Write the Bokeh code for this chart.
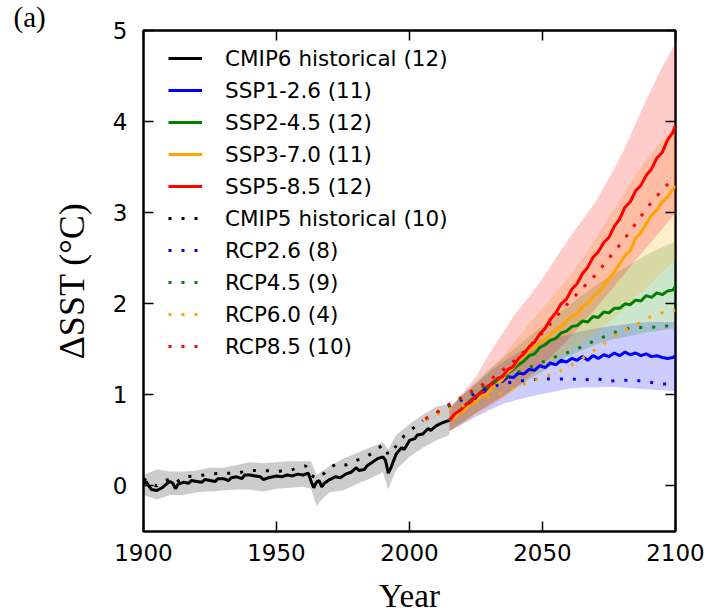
from bokeh.plotting import figure
from bokeh.models import (LinearAxis, FixedTicker, Legend, LegendItem, Title,
                          Range1d, CustomJSTickFormatter)
from bokeh.embed import file_html
from bokeh.resources import INLINE

# ---------------- data ----------------
hist6_years = [1900, 1901, 1902, 1903, 1905, 1907, 1909, 1910, 1911, 1912, 1913, 1915,
               1917, 1918, 1920, 1922, 1923, 1925, 1927, 1928, 1930, 1932, 1933, 1935,
               1937, 1938, 1940, 1942, 1944, 1945, 1947, 1950, 1952, 1954, 1956, 1958,
               1960, 1962, 1963, 1964, 1965, 1966, 1967, 1968, 1970, 1972, 1974, 1976,
               1978, 1980, 1981, 1983, 1984, 1986, 1988, 1990, 1991, 1992, 1993, 1995,
               1997, 1998, 2000, 2002, 2003, 2005, 2007, 2008, 2010, 2012, 2015]
hist6_mean = [0.02, 0.05, 0.00, -0.04, -0.05, -0.02, 0.03, 0.05, 0.03, -0.03, 0.02, 0.04,
              0.03, 0.06, 0.05, 0.04, 0.07, 0.06, 0.05, 0.08, 0.08, 0.06, 0.09, 0.10,
              0.08, 0.12, 0.12, 0.11, 0.10, 0.07, 0.09, 0.11, 0.10, 0.12, 0.11, 0.13,
              0.12, 0.14, 0.05, -0.02, 0.04, 0.06, -0.01, 0.03, 0.07, 0.10, 0.09, 0.13,
              0.15, 0.20, 0.17, 0.18, 0.22, 0.26, 0.30, 0.32, 0.28, 0.14, 0.20, 0.35,
              0.42, 0.40, 0.50, 0.52, 0.56, 0.57, 0.63, 0.61, 0.66, 0.69, 0.72]

band6_years = [1900, 1905, 1910, 1915, 1920, 1925, 1930, 1935, 1940, 1945, 1950, 1955,
               1960, 1963, 1965, 1967, 1970, 1975, 1980, 1985, 1990, 1992, 1995, 2000,
               2005, 2010, 2015]
band6_low = [-0.10, -0.15, -0.10, -0.10, -0.07, -0.06, -0.05, -0.04, -0.04, -0.06, -0.03, -0.02,
             -0.01, -0.03, -0.22, -0.15, -0.07, -0.05, 0.02, 0.08, 0.15, -0.04, 0.18, 0.32,
             0.42, 0.50, 0.56]
band6_high = [0.12, 0.18, 0.16, 0.16, 0.17, 0.20, 0.20, 0.23, 0.26, 0.25, 0.26, 0.27,
              0.27, 0.27, 0.12, 0.16, 0.22, 0.30, 0.36, 0.42, 0.48, 0.40, 0.56, 0.68,
              0.78, 0.87, 0.90]

hist5_years = [1900, 1903, 1905, 1908, 1910, 1912, 1915, 1920, 1925, 1930, 1935, 1940,
               1945, 1950, 1955, 1958, 1961, 1963, 1965, 1968, 1970, 1973, 1976, 1980,
               1983, 1986, 1988, 1990, 1991, 1992, 1994, 1996, 1998, 2000, 2002, 2005]
hist5_mean = [0.08, 0.02, 0.00, 0.06, 0.07, 0.03, 0.10, 0.11, 0.13, 0.14, 0.14, 0.17,
              0.17, 0.16, 0.17, 0.20, 0.22, 0.12, 0.08, 0.14, 0.20, 0.25, 0.23, 0.28,
              0.31, 0.36, 0.41, 0.45, 0.42, 0.34, 0.40, 0.48, 0.55, 0.60, 0.65, 0.72]

ssp_years = [2015, 2017, 2019, 2021, 2023, 2025, 2027, 2029, 2031, 2033, 2035, 2037,
             2039, 2041, 2043, 2045, 2047, 2049, 2051, 2053, 2055, 2057, 2059, 2061,
             2063, 2065, 2067, 2069, 2071, 2073, 2075, 2077, 2079, 2081, 2083, 2085,
             2087, 2089, 2091, 2093, 2095, 2097, 2099, 2100]
ssp126 = [0.72, 0.78, 0.80, 0.88, 0.90, 0.97, 1.00, 1.06, 1.08, 1.14, 1.15, 1.20,
          1.19, 1.24, 1.23, 1.28, 1.27, 1.32, 1.30, 1.35, 1.33, 1.38, 1.36, 1.40,
          1.38, 1.42, 1.38, 1.43, 1.40, 1.44, 1.42, 1.46, 1.43, 1.47, 1.44, 1.46,
          1.43, 1.45, 1.42, 1.43, 1.41, 1.40, 1.41, 1.43]
ssp245 = [0.72, 0.78, 0.82, 0.88, 0.94, 0.98, 1.04, 1.07, 1.13, 1.15, 1.21, 1.24,
          1.28, 1.33, 1.37, 1.43, 1.45, 1.52, 1.55, 1.60, 1.62, 1.68, 1.70, 1.75,
          1.76, 1.81, 1.80, 1.86, 1.85, 1.91, 1.90, 1.95, 1.95, 2.00, 1.99, 2.04,
          2.03, 2.09, 2.07, 2.12, 2.10, 2.14, 2.15, 2.19]
ssp370 = [0.72, 0.76, 0.80, 0.84, 0.90, 0.92, 0.99, 1.01, 1.08, 1.12, 1.17, 1.25,
          1.30, 1.38, 1.42, 1.49, 1.52, 1.58, 1.61, 1.66, 1.71, 1.75, 1.81, 1.86,
          1.89, 1.97, 2.00, 2.08, 2.12, 2.20, 2.28, 2.35, 2.44, 2.53, 2.58, 2.72,
          2.78, 2.88, 2.97, 3.03, 3.12, 3.17, 3.26, 3.29]
ssp585 = [0.72, 0.79, 0.83, 0.89, 0.92, 0.99, 1.02, 1.09, 1.12, 1.18, 1.20, 1.28,
          1.31, 1.40, 1.45, 1.53, 1.58, 1.67, 1.73, 1.83, 1.90, 2.00, 2.05, 2.16,
          2.22, 2.33, 2.40, 2.51, 2.57, 2.67, 2.73, 2.85, 2.93, 3.06, 3.12, 3.24,
          3.30, 3.41, 3.48, 3.60, 3.66, 3.80, 3.88, 3.96]

band_years = [2015, 2020, 2025, 2030, 2035, 2040, 2045, 2050, 2055, 2060, 2065, 2070,
              2075, 2080, 2085, 2090, 2095, 2100]
ssp126_low = [0.60, 0.68, 0.76, 0.83, 0.90, 0.94, 0.98, 1.01, 1.04, 1.07, 1.08, 1.08,
              1.09, 1.08, 1.07, 1.06, 1.05, 1.04]
ssp126_high = [0.85, 1.00, 1.12, 1.25, 1.36, 1.45, 1.52, 1.58, 1.63, 1.66, 1.70, 1.73,
               1.75, 1.77, 1.79, 1.80, 1.80, 1.80]
ssp245_low = [0.60, 0.70, 0.80, 0.90, 0.99, 1.08, 1.17, 1.26, 1.35, 1.43, 1.49, 1.55,
              1.60, 1.63, 1.66, 1.69, 1.71, 1.73]
ssp245_high = [0.85, 1.00, 1.14, 1.28, 1.40, 1.52, 1.64, 1.76, 1.87, 1.98, 2.10, 2.20,
               2.30, 2.38, 2.47, 2.55, 2.62, 2.68]
ssp370_low = [0.60, 0.68, 0.77, 0.86, 0.96, 1.06, 1.17, 1.28, 1.38, 1.48, 1.58, 1.68,
              1.80, 1.93, 2.07, 2.20, 2.35, 2.48]
ssp370_high = [0.85, 1.00, 1.12, 1.27, 1.42, 1.60, 1.78, 1.95, 2.12, 2.30, 2.50, 2.72,
               2.95, 3.18, 3.42, 3.62, 3.80, 3.95]
ssp585_low = [0.60, 0.70, 0.80, 0.88, 0.97, 1.08, 1.20, 1.33, 1.47, 1.62, 1.78, 1.95,
              2.12, 2.30, 2.48, 2.65, 2.82, 3.00]
ssp585_high = [0.85, 1.02, 1.20, 1.45, 1.68, 1.90, 2.08, 2.28, 2.50, 2.72, 2.92, 3.12,
               3.38, 3.65, 3.98, 4.30, 4.60, 4.86]

rcp_years = [2006, 2010, 2015, 2020, 2025, 2030, 2035, 2040, 2045, 2050, 2055, 2060,
             2065, 2070, 2075, 2080, 2085, 2090, 2095, 2100]
rcp26 = [0.73, 0.80, 0.88, 0.95, 1.02, 1.08, 1.12, 1.15, 1.16, 1.18, 1.17, 1.18,
         1.16, 1.18, 1.15, 1.16, 1.16, 1.14, 1.12, 1.12]
rcp45 = [0.73, 0.80, 0.88, 0.97, 1.05, 1.12, 1.18, 1.24, 1.30, 1.36, 1.42, 1.47,
         1.53, 1.60, 1.66, 1.72, 1.74, 1.74, 1.75, 1.77]
rcp60 = [0.72, 0.78, 0.84, 0.88, 0.93, 0.98, 1.02, 1.08, 1.14, 1.19, 1.24, 1.31,
         1.40, 1.50, 1.60, 1.70, 1.77, 1.85, 1.90, 1.93]
rcp85 = [0.74, 0.80, 0.90, 0.98, 1.07, 1.16, 1.27, 1.39, 1.53, 1.68, 1.85, 2.02,
         2.17, 2.32, 2.50, 2.68, 2.88, 3.08, 3.25, 3.40]

labels = ["CMIP6 historical (12)", "SSP1-2.6 (11)", "SSP2-4.5 (12)", "SSP3-7.0 (11)",
          "SSP5-8.5 (12)", "CMIP5 historical (10)", "RCP2.6 (8)", "RCP4.5 (9)",
          "RCP6.0 (4)", "RCP8.5 (10)"]
x_ticks = [1900, 1950, 2000, 2050, 2100]
y_ticks = [0, 1, 2, 3, 4, 5]

# ---------------- figure ----------------
BLUE, GREEN, ORANGE, RED = "#0000ff", "#008000", "#ffa500", "#ff0000"

p = figure(width=715, height=616, x_range=Range1d(1900, 2100), y_range=Range1d(-0.5, 5),
           output_backend="svg", toolbar_location=None,
           min_border_left=143, min_border_right=40, min_border_top=30, min_border_bottom=84)
p.background_fill_color = "white"
p.border_fill_color = "white"
p.grid.visible = False
p.outline_line_color = "black"
p.outline_line_width = 2.5

p.title = Title(text="(a)", align="left", offset=-130, standoff=-5,
                text_font="Liberation Serif", text_font_size="29px",
                text_font_style="normal", text_color="black")

for ax in (p.xaxis[0], p.yaxis[0]):
    ax.axis_line_color = None
    ax.major_tick_in = 10
    ax.major_tick_out = 0
    ax.minor_tick_line_color = None
    ax.major_tick_line_width = 1.5
    ax.major_tick_line_color = "black"
    ax.major_label_text_font = "DejaVu Sans"
    ax.major_label_text_font_size = "23px"
    ax.major_label_text_color = "black"
    ax.axis_label_text_font = "Liberation Serif"
    ax.axis_label_text_font_size = "33px"
    ax.axis_label_text_font_style = "normal"
    ax.axis_label_text_color = "black"

p.xaxis[0].ticker = FixedTicker(ticks=x_ticks)
p.yaxis[0].ticker = FixedTicker(ticks=y_ticks)
p.xaxis[0].axis_label = "Year"
p.yaxis[0].axis_label = "ΔSST (°C)"
p.yaxis[0].axis_label_text_font_size = "36px"
p.xaxis[0].major_label_standoff = 12
p.yaxis[0].major_label_standoff = 16
p.xaxis[0].axis_label_standoff = 14
p.yaxis[0].axis_label_standoff = 18

blank = CustomJSTickFormatter(code="return ''")
for loc, tk in (("right", y_ticks), ("above", x_ticks)):
    ax = LinearAxis(ticker=FixedTicker(ticks=tk), formatter=blank,
                    axis_line_color=None, major_tick_in=10, major_tick_out=0,
                    minor_tick_line_color=None, major_tick_line_width=1.5,
                    major_label_standoff=0, major_label_text_font_size="0px")
    p.add_layout(ax, loc)

# bands
p.varea(x=band6_years, y1=band6_low, y2=band6_high, fill_color="black", fill_alpha=0.2)
for lo, hi, c in ((ssp126_low, ssp126_high, BLUE), (ssp245_low, ssp245_high, GREEN),
                  (ssp370_low, ssp370_high, ORANGE), (ssp585_low, ssp585_high, RED)):
    p.varea(x=band_years, y1=lo, y2=hi, fill_color=c, fill_alpha=0.2)

LW = 3
DOT = "3 10"
r_h6 = p.line(hist6_years, hist6_mean, line_color="black", line_width=LW)
r_s1 = p.line(ssp_years, ssp126, line_color=BLUE, line_width=LW)
r_s2 = p.line(ssp_years, ssp245, line_color=GREEN, line_width=LW)
r_s3 = p.line(ssp_years, ssp370, line_color=ORANGE, line_width=LW)
r_s5 = p.line(ssp_years, ssp585, line_color=RED, line_width=LW)
r_h5 = p.line(hist5_years, hist5_mean, line_color="black", line_width=LW, line_dash=DOT)
r_r26 = p.line(rcp_years, rcp26, line_color=BLUE, line_width=LW, line_dash=DOT)
r_r45 = p.line(rcp_years, rcp45, line_color=GREEN, line_width=LW, line_dash=DOT)
r_r60 = p.line(rcp_years, rcp60, line_color=ORANGE, line_width=LW, line_dash=DOT)
r_r85 = p.line(rcp_years, rcp85, line_color=RED, line_width=LW, line_dash=DOT)

rends = [r_h6, r_s1, r_s2, r_s3, r_s5, r_h5, r_r26, r_r45, r_r60, r_r85]
legend = Legend(items=[LegendItem(label=l, renderers=[r]) for l, r in zip(labels, rends)],
                location=(25, 172), glyph_width=34, glyph_height=26, label_height=26,
                label_standoff=23, spacing=6, padding=0, margin=0,
                border_line_alpha=0, background_fill_alpha=0,
                label_text_font="DejaVu Sans", label_text_font_size="21.5px",
                label_text_color="black")
p.add_layout(legend)

open("out.html", "w").write(file_html(p, INLINE))
